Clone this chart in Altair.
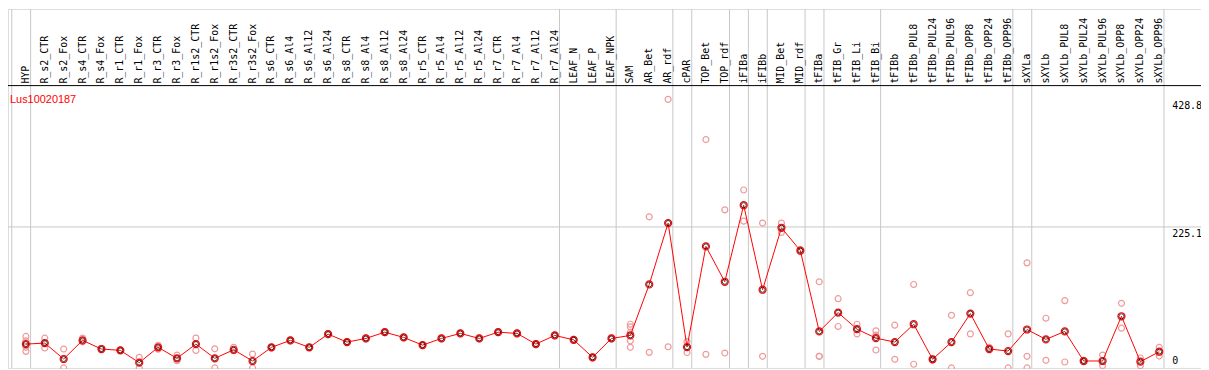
import altair as alt
import pandas as pd

gene_id = "Lus10020187"

categories = [
    "HYP", "R_s2_CTR", "R_s2_Fox", "R_s4_CTR", "R_s4_Fox", "R_r1_CTR", "R_r1_Fox",
    "R_r3_CTR", "R_r3_Fox", "R_r1s2_CTR", "R_r1s2_Fox", "R_r3s2_CTR", "R_r3s2_Fox",
    "R_s6_CTR", "R_s6_Al4", "R_s6_Al12", "R_s6_Al24", "R_s8_CTR", "R_s8_Al4",
    "R_s8_Al12", "R_s8_Al24", "R_r5_CTR", "R_r5_Al4", "R_r5_Al12", "R_r5_Al24",
    "R_r7_CTR", "R_r7_Al4", "R_r7_Al12", "R_r7_Al24", "LEAF_N", "LEAF_P", "LEAF_NPK",
    "SAM", "AR_Bet", "AR_rdf", "cPAR", "TOP_Bet", "TOP_rdf", "iFIBa", "iFIBb",
    "MID_Bet", "MID_rdf", "tFIBa", "tFIB_Gr", "tFIB_Li", "tFIB_Bi", "tFIBb",
    "tFIBb_PUL8", "tFIBb_PUL24", "tFIBb_PUL96", "tFIBb_OPP8", "tFIBb_OPP24",
    "tFIBb_OPP96", "sXYLa", "sXYLb", "sXYLb_PUL8", "sXYLb_PUL24", "sXYLb_PUL96",
    "sXYLb_OPP8", "sXYLb_OPP24", "sXYLb_OPP96",
]

means = [
    38.1, 39.7, 14.3, 44.0, 30.2, 28.1, 8.4, 32.9, 15.4, 38.1,
    15.4, 29.0, 11.1, 32.9, 44.0, 32.9, 54.0, 41.3, 47.1, 57.1,
    48.7, 36.5, 47.1, 55.1, 47.1, 57.1, 55.1, 38.1, 51.9, 44.9,
    17.0, 47.1, 51.9, 133.3, 231.3, 33.3, 194.1, 137.6, 259.8, 124.9,
    223.8, 187.3, 58.3, 88.4, 61.9, 47.6, 41.3, 69.8, 13.8, 41.3,
    86.8, 30.2, 27.0, 61.4, 45.6, 58.3, 11.1, 11.1, 82.5, 10.0, 25.9,
]

replicates = [
    [50.3, 43.3, 32.9, 26.5], [47.5, 32.0], [30.2, 0.0], [47.6, 41.7], [31.0, 29.5],
    [28.8, 27.4], [17.0, 0.0], [36.0, 30.0], [20.6, 11.6], [47.6, 28.0],
    [30.6, 0.0], [32.9, 27.5], [22.2, 0.0], [33.8, 32.0], [45.0, 43.0],
    [33.5, 32.3], [55.0, 53.0], [42.0, 40.6], [48.0, 46.2], [58.0, 56.2],
    [49.5, 47.9], [37.4, 35.6], [48.0, 46.2], [56.0, 54.2], [48.0, 46.2],
    [58.0, 56.2], [56.0, 54.2], [39.0, 37.2], [52.8, 51.0], [45.8, 44.0],
    [18.0, 16.0], [48.0, 46.2], [69.8, 65.6, 56.7, 43.3, 32.9], [241.3, 24.9], [428.8, 33.8],
    [42.0, 24.6], [364.6, 21.7], [252.4, 23.8], [284.1, 234.4], [231.3, 18.6],
    [231.3, 216.3], [189.0, 185.6], [137.6, 18.6, 18.6], [110.6, 66.2], [69.8, 54.4],
    [59.2, 52.4, 28.6], [68.3, 13.8], [133.3, 5.9], [15.0, 12.6], [84.1, 0.0],
    [120.2, 54.4], [32.9, 30.2], [54.4, 0.0], [167.8, 18.6, 0.0], [79.4, 12.2],
    [107.5, 9.5], [12.0, 10.2], [20.6, 3.7], [103.2, 63.5], [15.9, 3.7],
    [33.0, 19.0],
]

# index of the last category of each sample group (-1 = before the first)
group_ends = [-1, 0, 28, 31, 34, 35, 37, 38, 39, 41, 42, 45, 52, 53, 60]

upper_ticks = [225.1, 428.8]
lower_ticks = [0]
grid_values = [225.1]

# ---------------------------------------------------------------- tables
cat_df = pd.DataFrame({"idx": list(range(len(categories))), "label": categories, "mean": means})
rep_rows = []
for i, reps in enumerate(replicates):
    for v in reps:
        rep_rows.append({"idx": i, "value": v})
rep_df = pd.DataFrame(rep_rows)
sep_df = pd.DataFrame({"pos": [g + 0.25 for g in group_ends]})
grid_df = pd.DataFrame({"value": grid_values})
up_df = pd.DataFrame({"value": upper_ticks, "txt": [f"{v:g}" for v in upper_ticks]})
lo_df = pd.DataFrame({"value": lower_ticks, "txt": [f"{v:g}" for v in lower_ticks]})
title_df = pd.DataFrame({"t": [gene_id]})

W, H = 1200, 361
xs = alt.Scale(domain=[-18 / 19, (W - 18) / 19], nice=False, zero=False)
ys = alt.Scale(domain=[0, H / 0.63], nice=False, zero=False)
MONO = "DejaVu Sans Mono"

seps = alt.Chart(sep_df).mark_rule(color="#c8c8c8", strokeWidth=1).encode(
    x=alt.X("pos:Q", scale=xs, axis=None)
)
grid = alt.Chart(grid_df).mark_rule(color="#c8c8c8", strokeWidth=1).encode(
    y=alt.Y("value:Q", scale=ys, axis=None)
)
header_line = alt.Chart(title_df).mark_rule(color="black", strokeWidth=1).encode(
    y=alt.value(77)
)
header = alt.Chart(cat_df).mark_text(
    angle=270, align="left", baseline="middle", font=MONO, fontSize=10, color="black"
).encode(
    x=alt.X("idx:Q", scale=xs, axis=None),
    y=alt.value(75),
    text="label:N",
)
title = alt.Chart(title_df).mark_text(
    align="left", baseline="alphabetic", font="Liberation Sans", fontSize=11, color="#ff0000"
).encode(x=alt.value(2), y=alt.value(94), text="t:N")

reps = alt.Chart(rep_df).mark_point(
    shape="circle", filled=False, size=36, strokeWidth=1.2, color="#ef9a9a", opacity=1
).encode(
    x=alt.X("idx:Q", scale=xs, axis=None),
    y=alt.Y("value:Q", scale=ys, axis=None),
)
line = alt.Chart(cat_df).mark_line(color="#ff0000", strokeWidth=1).encode(
    x=alt.X("idx:Q", scale=xs, axis=None),
    y=alt.Y("mean:Q", scale=ys, axis=None),
)
mean_pts = alt.Chart(cat_df).mark_point(
    shape="circle", filled=False, size=50, strokeWidth=1.2, color="#ff0000", opacity=1
).encode(
    x=alt.X("idx:Q", scale=xs, axis=None),
    y=alt.Y("mean:Q", scale=ys, axis=None),
)
mean_core = alt.Chart(cat_df).mark_point(
    shape="circle", filled=False, size=26, strokeWidth=0.9, color="#000000", opacity=0.85
).encode(
    x=alt.X("idx:Q", scale=xs, axis=None),
    y=alt.Y("mean:Q", scale=ys, axis=None),
)
up_lbl = alt.Chart(up_df).mark_text(
    align="left", baseline="top", font=MONO, fontSize=10, color="black", dy=2
).encode(x=alt.value(1171), y=alt.Y("value:Q", scale=ys, axis=None), text="txt:N")
lo_lbl = alt.Chart(lo_df).mark_text(
    align="left", baseline="bottom", font=MONO, fontSize=10, color="black", dy=-2
).encode(x=alt.value(1171), y=alt.Y("value:Q", scale=ys, axis=None), text="txt:N")

chart = alt.layer(
    seps, grid, header_line, header, title, reps, line, mean_pts, mean_core, up_lbl, lo_lbl
).properties(
    width=W, height=H, autosize=alt.AutoSizeParams(type="none"), padding=0
).configure_view(stroke="black", strokeWidth=1).configure(background="white")

chart.save("out.html", embed_options={"renderer": "svg", "actions": False})
